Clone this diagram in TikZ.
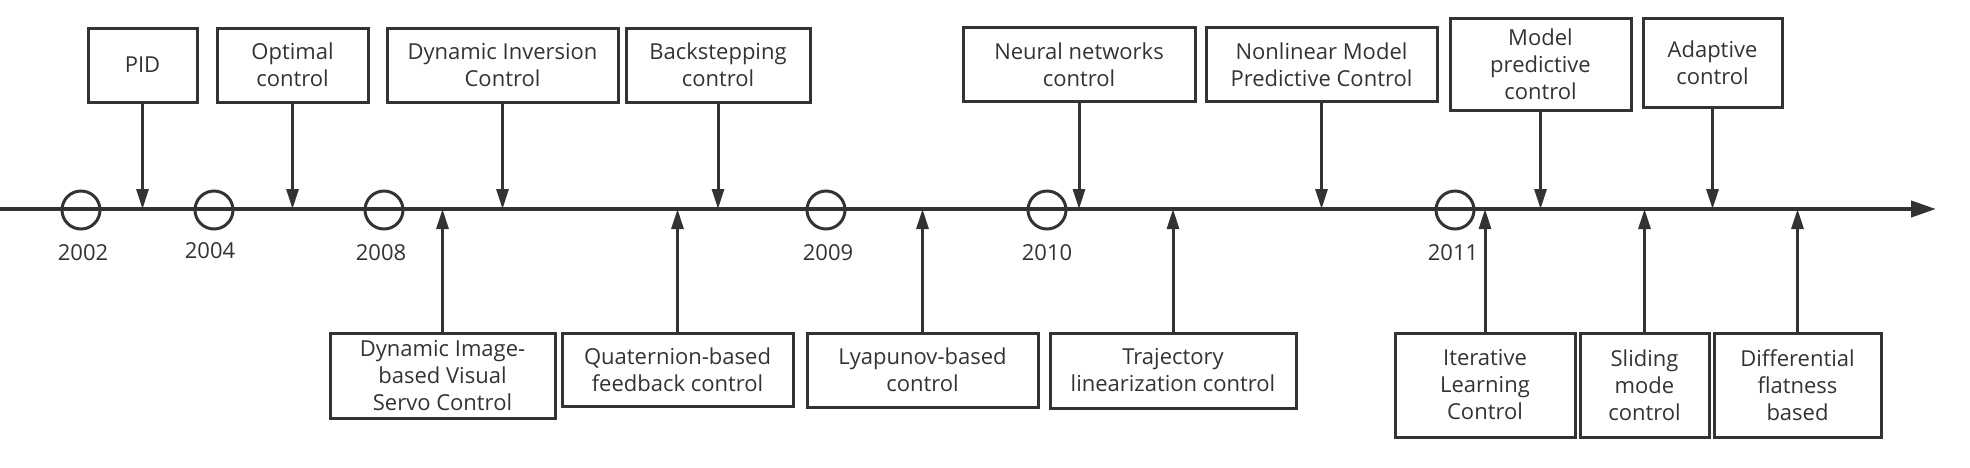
\documentclass[tikz,border=0pt]{standalone}
\usepackage{fontspec}
\setmainfont{Open Sans}
\usetikzlibrary{arrows.meta}
\definecolor{ink}{HTML}{333333}
\begin{document}
\begin{tikzpicture}[x=0.5pt,y=-0.5pt,
  box/.style={draw=ink, line width=1.5pt, align=center, inner sep=0pt, text=ink,
    font=\fontsize{11pt}{13.5pt}\selectfont},
  conn/.style={draw=ink, line width=1.5pt, -{Triangle[length=10pt,width=6pt]}},
  axisline/.style={draw=ink, line width=2pt, -{Triangle[length=12.5pt,width=8pt]}},
  ring/.style={circle, draw=ink, line width=1.5pt, minimum size=19pt, inner sep=0pt},
  yr/.style={text=ink, inner sep=0pt, font=\fontsize{11pt}{13.5pt}\selectfont},
]
\useasboundingbox (0,0) rectangle (1970,467);

% timeline
\coordinate (tlstart) at (0,209);
\coordinate (tlend) at (1936,209);
\draw[axisline] (tlstart) -- (tlend);

% year rings and labels
\node[ring] (c2002) at (81,210) {};
\node[ring] (c2004) at (214,210) {};
\node[ring] (c2008) at (384,210) {};
\node[ring] (c2009) at (826,210) {};
\node[ring] (c2010) at (1047,210) {};
\node[ring] (c2011) at (1455,210) {};
\node[yr] (l2002) at (83,253) {2002};
\node[yr] (l2004) at (210,251) {2004};
\node[yr] (l2008) at (381,253) {2008};
\node[yr] (l2009) at (828,253) {2009};
\node[yr] (l2010) at (1047,253) {2010};
\node[yr] (l2011) at (1453,253) {2011};

% top boxes
\node[box, minimum width=54.5pt, minimum height=37pt] (pid) at (142.5,65) {PID};
\node[box, minimum width=75.5pt, minimum height=37pt] (opt) at (292.5,65) {Optimal\\control};
\node[box, minimum width=115.5pt, minimum height=37pt] (dinv) at (502.5,65) {Dynamic Inversion\\Control};
\node[box, minimum width=92pt, minimum height=37pt] (back) at (718,65) {Backstepping\\control};
\node[box, minimum width=116pt, minimum height=37pt] (neur) at (1079,64.5) {Neural networks\\control};
\node[box, minimum width=115.5pt, minimum height=37pt] (nmpc) at (1321.5,64.5) {Nonlinear Model\\Predictive Control};
\node[box, minimum width=90.5pt, minimum height=46pt] (mpc) at (1540.5,64) {Model\\predictive\\control};
\node[box, minimum width=69.5pt, minimum height=44.5pt] (adap) at (1712.5,62.5) {Adaptive\\control};

% bottom boxes
\node[box, minimum width=112.5pt, minimum height=42.5pt] (dibvs) at (442.5,375.5) {Dynamic Image-\\based Visual\\Servo Control};
\node[box, minimum width=115.5pt, minimum height=36.5pt] (quat) at (677.5,369.5) {Quaternion-based\\feedback control};
\node[box, minimum width=115.5pt, minimum height=37pt] (lyap) at (922.5,370) {Lyapunov-based\\control};
\node[box, minimum width=123pt, minimum height=37.5pt] (traj) at (1173,370.5) {Trajectory\\linearization control};
\node[box, minimum width=90pt, minimum height=52pt] (ilc) at (1485,385) {Iterative\\Learning\\Control};
\node[box, minimum width=64.5pt, minimum height=52pt] (slid) at (1644.5,385) {Sliding\\mode\\control};
\node[box, minimum width=83.5pt, minimum height=52pt] (diff) at (1797.5,385) {Differential\\flatness\\based};

% connectors
\foreach \n in {pid,opt,dinv,back,neur,nmpc,mpc,adap,dibvs,quat,lyap,traj,ilc,slid,diff}
  \draw[conn] (\n) -- (\n |- tlstart);
\end{tikzpicture}
\end{document}
